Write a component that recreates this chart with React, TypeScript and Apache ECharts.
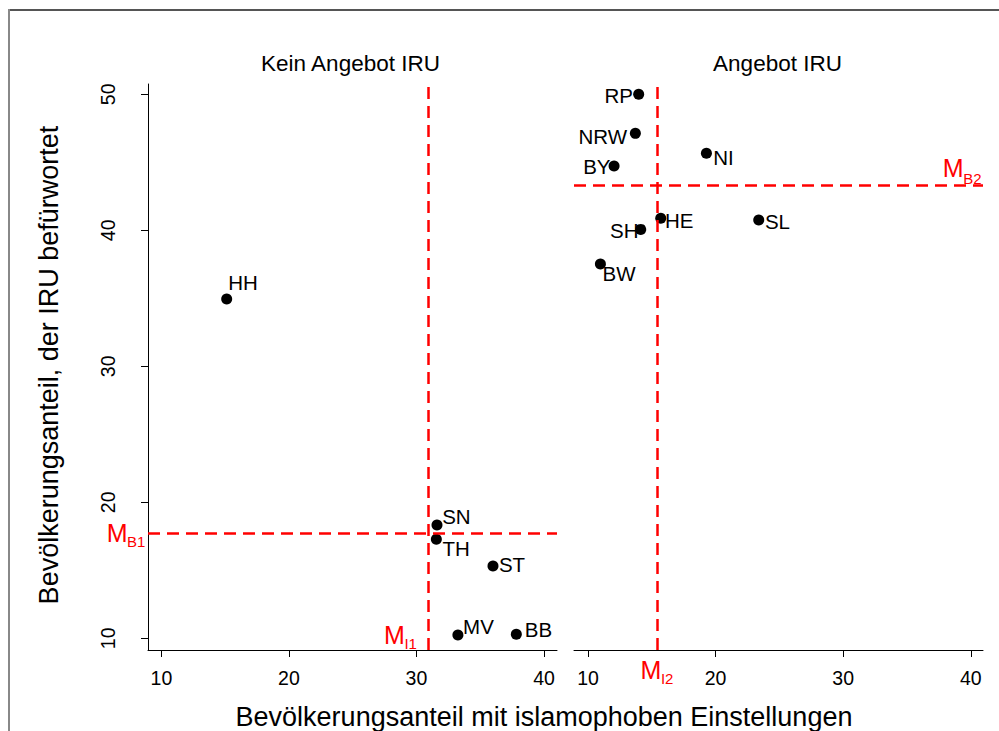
import React, { useEffect, useRef } from "react";
import * as echarts from "echarts";

// ---------- data ----------
const leftStates = ["HH", "SN", "TH", "ST", "MV", "BB"];
const leftX = [15.12, 31.61, 31.56, 36.0, 33.25, 37.83];
const leftY = [34.95, 18.33, 17.28, 15.32, 10.24, 10.29];

const rightStates = ["RP", "NRW", "BY", "NI", "HE", "SL", "SH", "BW"];
const rightX = [13.97, 13.71, 12.04, 19.28, 15.7, 23.38, 14.13, 10.97];
const rightY = [50.0, 47.13, 44.73, 45.66, 40.88, 40.76, 40.07, 37.52];

const meanI1 = 30.9;
const meanB1 = 17.76;
const meanI2 = 15.41;
const meanB2 = 43.33;

const xTicks = [10, 20, 30, 40];
const yTicks = [10, 20, 30, 40, 50];

const panelTitles = ["Kein Angebot IRU", "Angebot IRU"];
const xTitle = "Bevölkerungsanteil mit islamophoben Einstellungen";
const yTitle = "Bevölkerungsanteil, der IRU befürwortet";

// ---------- layout / style ----------
const FONT = "'Liberation Sans', Arial, Helvetica, sans-serif";
const RED = "#ff0000";
const X0_MIN = 8.95, X0_MAX = 41.02;
const X1_MIN = 8.9, X1_MAX = 40.96;
const Y_MIN = 9.14, Y_MAX = 50.76;

// label placement per state: [align, dx, dy]
const labelPlacement: Record<string, [string, number, number]> = {
  HH: ["left", 1.5, -16.5],
  SN: ["left", 5.2, -8.3],
  TH: ["left", 6.1, 9],
  ST: ["left", 5.9, -1],
  MV: ["left", 5.2, -8.7],
  BB: ["left", 8.5, -5],
  RP: ["right", -5.8, 1.5],
  NRW: ["right", -8.2, 3],
  BY: ["right", -3.5, 0],
  NI: ["left", 6.8, 4.5],
  HE: ["left", 4.2, 2],
  SL: ["left", 6.2, 1.2],
  SH: ["right", -2.2, 1.5],
  BW: ["left", 2.1, 9.5],
};

function makePoints(states: string[], xs: number[], ys: number[]) {
  return states.map((s, i) => {
    const [align, dx, dy] = labelPlacement[s];
    return {
      name: s,
      value: [xs[i], ys[i]],
      label: {
        show: true,
        formatter: s,
        position: ["50%", "50%"],
        align,
        verticalAlign: "middle",
        offset: [dx, dy],
        fontSize: 20.5,
        color: "#000",
        opacity: 1,
        fontFamily: FONT,
      },
    };
  });
}

function meanLines(xv: number, yv: number) {
  return {
    silent: true,
    symbol: ["none", "none"],
    label: { show: false },
    lineStyle: { color: RED, width: 2.5, type: [12, 7], opacity: 1 },
    emphasis: { disabled: true },
    data: [{ xAxis: xv }, { yAxis: yv }],
  };
}

function xAxisCfg(gridIndex: number, min: number, max: number) {
  return {
    gridIndex,
    type: "value",
    min,
    max,
    axisLine: { show: true, onZero: false, lineStyle: { color: "#000", width: 1 } },
    axisTick: { show: true, length: 7, customValues: xTicks, lineStyle: { color: "#000", width: 1 } },
    axisLabel: { customValues: xTicks, margin: 17.5, fontSize: 19.5, color: "#000", fontFamily: FONT },
    splitLine: { show: false },
  };
}

export default function App() {
  const ref = useRef<HTMLDivElement>(null);
  useEffect(() => {
    if (!ref.current) return;
    const chart = echarts.init(ref.current, null, { renderer: "svg" });
    chart.setOption({
      animation: false,
      backgroundColor: "#fff",
      grid: [
        { left: 148, top: 84, width: 409, height: 566 },
        { left: 574, top: 84, width: 409, height: 566 },
      ],
      xAxis: [xAxisCfg(0, X0_MIN, X0_MAX), xAxisCfg(1, X1_MIN, X1_MAX)],
      yAxis: [
        {
          gridIndex: 0,
          type: "value",
          min: Y_MIN,
          max: Y_MAX,
          axisLine: { show: true, onZero: false, lineStyle: { color: "#000", width: 1 } },
          axisTick: { show: true, length: 7, customValues: yTicks, lineStyle: { color: "#000", width: 1 } },
          axisLabel: { customValues: yTicks, rotate: 90, margin: 30, fontSize: 19.5, color: "#000", fontFamily: FONT },
          splitLine: { show: false },
        },
        { gridIndex: 1, type: "value", min: Y_MIN, max: Y_MAX, show: false, splitLine: { show: false } },
      ],
      series: [
        {
          type: "scatter",
          xAxisIndex: 0,
          yAxisIndex: 0,
          symbol: "circle",
          symbolSize: 11,
          itemStyle: { color: "#000", opacity: 1 },
          silent: true,
          data: makePoints(leftStates, leftX, leftY),
          markLine: meanLines(meanI1, meanB1),
        },
        {
          type: "scatter",
          xAxisIndex: 1,
          yAxisIndex: 1,
          symbol: "circle",
          symbolSize: 11,
          itemStyle: { color: "#000", opacity: 1 },
          silent: true,
          data: makePoints(rightStates, rightX, rightY),
          markLine: meanLines(meanI2, meanB2),
        },
      ],
    });

    const p0 = (v: number[]) => chart.convertToPixel({ gridIndex: 0 }, v) as number[];
    const p1 = (v: number[]) => chart.convertToPixel({ gridIndex: 1 }, v) as number[];
    const [l1x, l1y] = p0([meanI1, meanB1]);
    const [g0Left, g0Bottom] = p0([X0_MIN, Y_MIN]);
    const [g0Right] = p0([X0_MAX, Y_MAX]);
    const [l2x, l2y] = p1([meanI2, meanB2]);
    const [g1Left, g1Bottom] = p1([X1_MIN, Y_MIN]);
    const [g1Right] = p1([X1_MAX, Y_MAX]);

    const txt = (x: number, y: number, text: string, size: number, align: string, color = "#000", rotation = 0) => ({
      type: "text",
      x,
      y,
      rotation,
      silent: true,
      style: { text, fontSize: size, fontFamily: FONT, fill: color, align, verticalAlign: "middle" },
    });
    const mLabel = (ax: number, my: number, sy: number, sub: string) => [
      txt(ax, my, "M", 25, "right", RED),
      txt(ax - 0.5, sy, sub, 15, "left", RED),
    ];

    chart.setOption({
      graphic: {
        elements: [
          { type: "line", silent: true, shape: { x1: 9, y1: 10, x2: 999, y2: 10 }, style: { stroke: "#555", lineWidth: 2 } },
          { type: "line", silent: true, shape: { x1: 9, y1: 9, x2: 9, y2: 731 }, style: { stroke: "#888", lineWidth: 2 } },
          txt((g0Left + g0Right) / 2 - 2, 63, panelTitles[0], 22.5, "center"),
          txt((g1Left + g1Right) / 2 - 1, 63, panelTitles[1], 22.5, "center"),
          txt(544, 717, xTitle, 27, "center"),
          txt(49, 365, yTitle, 27, "center", "#000", Math.PI / 2),
          ...mLabel(g0Left - 20.5, l1y, l1y + 8.5, "B1"),
          ...mLabel(l1x - 23, g0Bottom - 15, g0Bottom - 6.7, "I1"),
          ...mLabel(l2x + 4.4, g1Bottom + 20, g1Bottom + 28.7, "I2"),
          ...mLabel(g1Right - 19.3, l2y - 16.7, l2y - 6.2, "B2"),
        ],
      },
    });

    return () => chart.dispose();
  }, []);
  return <div ref={ref} style={{ position: "absolute", left: 0, top: 0, width: 999, height: 731 }} />;
}
